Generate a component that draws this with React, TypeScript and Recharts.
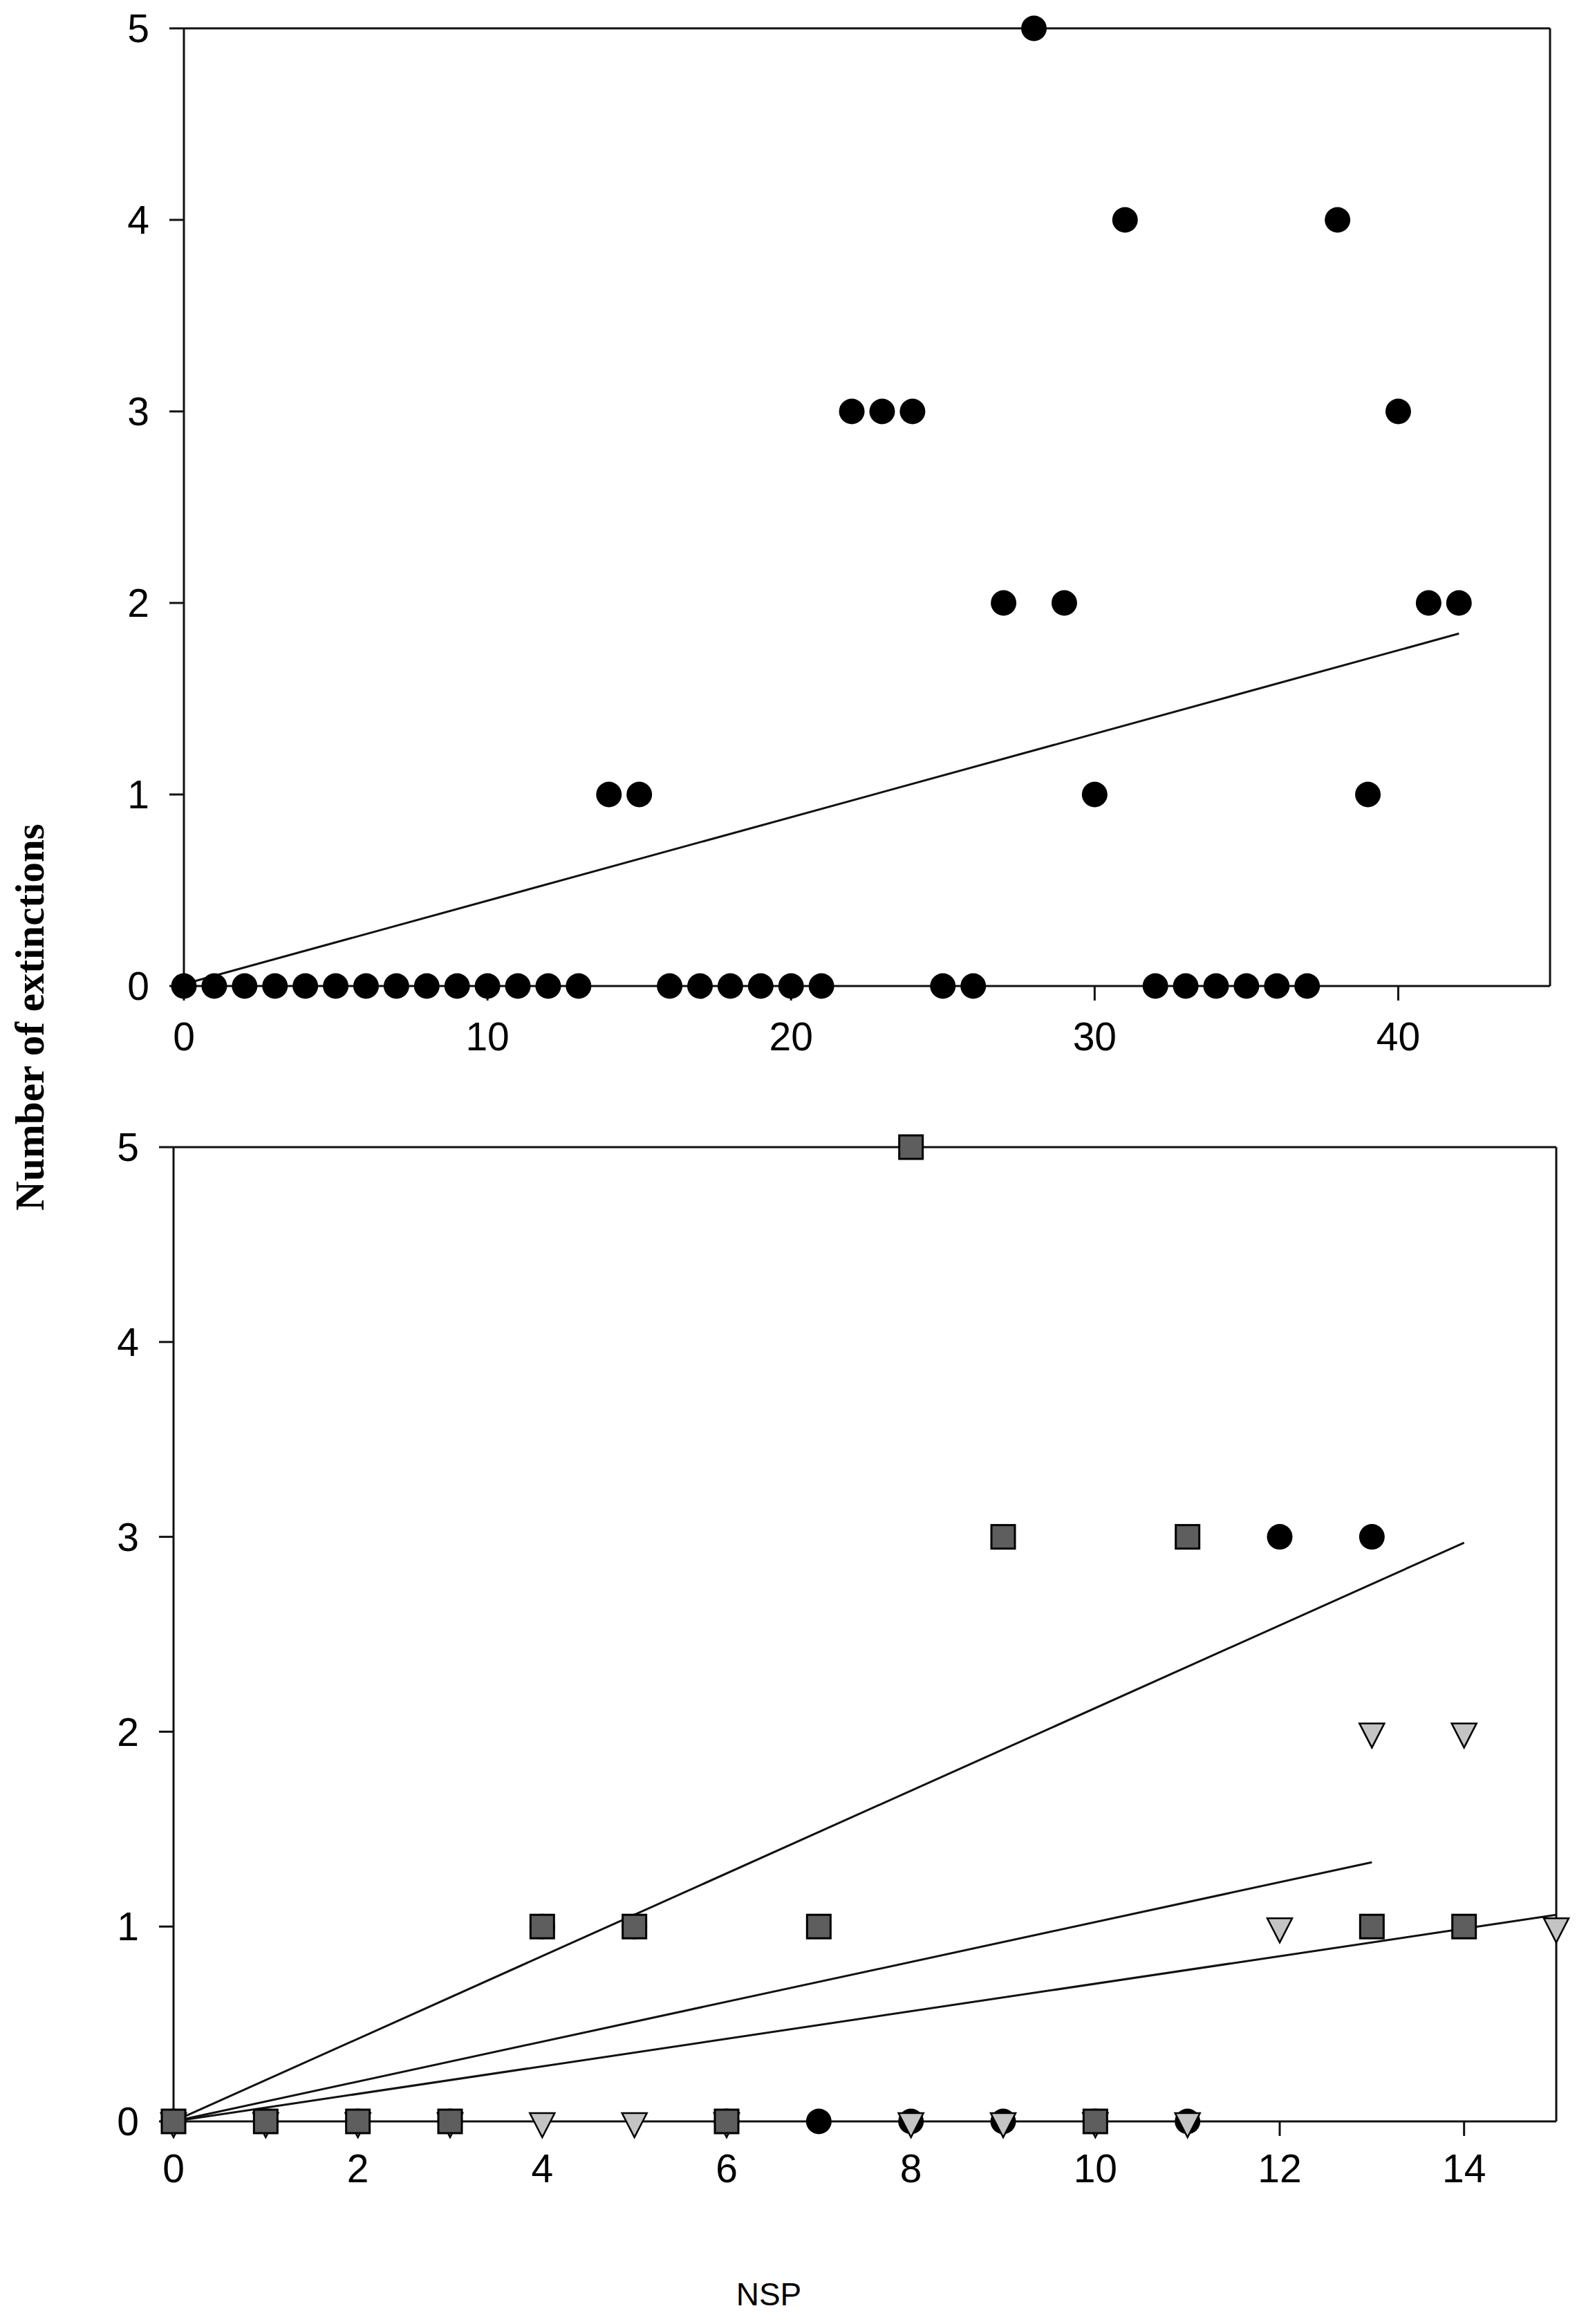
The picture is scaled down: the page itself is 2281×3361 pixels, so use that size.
import React from "react";
import {
  ScatterChart, Scatter, XAxis, YAxis, ReferenceLine,
} from "recharts";

// top panel: every run, NSP 0..42
const topNsp = [
  0, 1, 2, 3, 4, 5, 6, 7, 8, 9, 10, 11, 12, 13, 14, 15, 16, 17, 18, 19, 20, 21,
  22, 23, 24, 25, 26, 27, 28, 29, 30, 31, 32, 33, 34, 35, 36, 37, 38, 39, 40, 41, 42,
];
const topExt = [
  0, 0, 0, 0, 0, 0, 0, 0, 0, 0, 0, 0, 0, 0, 1, 1, 0, 0, 0, 0, 0, 0,
  3, 3, 3, 0, 0, 2, 5, 2, 1, 4, 0, 0, 0, 0, 0, 0, 4, 1, 3, 2, 2,
];
const topFitX = [0, 42];
const topFitY = [0.01, 1.84];

// bottom panel: three groups
const circleNsp = [0, 1, 2, 3, 4, 5, 6, 7, 8, 9, 10, 11, 12, 13];
const circleExt = [0, 0, 0, 0, 1, 1, 0, 0, 0, 0, 0, 0, 3, 3];
const squareNsp = [0, 1, 2, 3, 4, 5, 6, 7, 8, 9, 10, 11, 13, 14];
const squareExt = [0, 0, 0, 0, 1, 1, 0, 1, 5, 3, 0, 3, 1, 1];
const triNsp = [0, 1, 2, 3, 4, 5, 6, 8, 9, 10, 11, 12, 13, 14, 15];
const triExt = [0, 0, 0, 0, 0, 0, 0, 0, 0, 0, 0, 1, 2, 2, 1];

const squareFitX = [0, 14];
const squareFitY = [0, 2.97];
const circleFitX = [0, 13];
const circleFitY = [0, 1.33];
const triFitX = [0, 15];
const triFitY = [0, 1.06];

const topXTicks = [0, 10, 20, 30, 40];
const bottomXTicks = [0, 2, 4, 6, 8, 10, 12, 14];
const yTicks = [0, 1, 2, 3, 4, 5];

const pts = (xs: number[], ys: number[]) => xs.map((x, i) => ({ x, y: ys[i] }));

const tickFont = { fontSize: 57, fill: "#000", fontFamily: "'Liberation Sans', Arial, sans-serif" };
const axisStroke = { stroke: "#111", strokeWidth: 3 };

const Dot = ({ cx, cy }: any) => <circle cx={cx} cy={cy} r={18.5} fill="#000" />;
const Square = ({ cx, cy }: any) => (
  <rect x={cx - 17} y={cy - 17} width={34} height={34} fill="#5e5e5e" stroke="#000" strokeWidth={3} />
);
const DownTri = ({ cx, cy }: any) => (
  <polygon
    points={`${cx - 18},${cy - 12} ${cx + 18},${cy - 12} ${cx},${cy + 23}`}
    fill="#c4c4c4" stroke="#000" strokeWidth={2.5} strokeLinejoin="miter"
  />
);
const NoMark = () => <g />;
const fitLine = { stroke: "#111", strokeWidth: 3 };

export default function App() {
  return (
    <div style={{ position: "absolute", left: 0, top: 0, width: 2281, height: 3361, background: "#fff" }}>

      <div style={{ position: "absolute", left: 0, top: 0 }}>
        <ScatterChart width={2281} height={1546} margin={{ top: 41, right: 39, bottom: 0, left: 0 }}>
          <XAxis
            type="number" dataKey="x" domain={[0, 45]} ticks={topXTicks} height={120}
            tick={tickFont} tickSize={21} tickMargin={32}
            axisLine={axisStroke} tickLine={axisStroke}
          />
          <YAxis
            type="number" dataKey="y" domain={[0, 5]} ticks={yTicks} width={266}
            tick={tickFont} tickSize={21} tickMargin={29}
            axisLine={axisStroke} tickLine={axisStroke}
          />
          <ReferenceLine y={5} stroke="#111" strokeWidth={3} />
          <ReferenceLine x={45} stroke="#111" strokeWidth={3} />
          <Scatter data={pts(topFitX, topFitY)} line={fitLine} shape={NoMark} isAnimationActive={false} />
          <Scatter data={pts(topNsp, topExt)} shape={Dot} isAnimationActive={false} />
        </ScatterChart>
      </div>

      <div style={{ position: "absolute", left: 0, top: 1560 }}>
        <ScatterChart width={2281} height={1638} margin={{ top: 99, right: 30, bottom: 0, left: 0 }}>
          <XAxis
            type="number" dataKey="x" domain={[0, 15]} ticks={bottomXTicks} height={130}
            tick={tickFont} tickSize={21} tickMargin={27}
            axisLine={axisStroke} tickLine={axisStroke}
          />
          <YAxis
            type="number" dataKey="y" domain={[0, 5]} ticks={yTicks} width={251}
            tick={tickFont} tickSize={21} tickMargin={29}
            axisLine={axisStroke} tickLine={axisStroke}
          />
          <ReferenceLine y={5} stroke="#111" strokeWidth={3} />
          <ReferenceLine x={15} stroke="#111" strokeWidth={3} />
          <Scatter data={pts(squareFitX, squareFitY)} line={fitLine} shape={NoMark} isAnimationActive={false} />
          <Scatter data={pts(circleFitX, circleFitY)} line={fitLine} shape={NoMark} isAnimationActive={false} />
          <Scatter data={pts(triFitX, triFitY)} line={fitLine} shape={NoMark} isAnimationActive={false} />
          <Scatter data={pts(circleNsp, circleExt)} shape={Dot} isAnimationActive={false} />
          <Scatter data={pts(triNsp, triExt)} shape={DownTri} isAnimationActive={false} />
          <Scatter data={pts(squareNsp, squareExt)} shape={Square} isAnimationActive={false} />
        </ScatterChart>
      </div>

      <div
        style={{
          position: "absolute", left: 43, top: 1471,
          transform: "translate(-50%, -50%) rotate(-90deg)",
          whiteSpace: "nowrap", fontFamily: "'Liberation Serif', 'Times New Roman', serif",
          fontWeight: "bold", fontSize: 59, color: "#000", lineHeight: 1,
        }}
      >
        Number of extinctions
      </div>

      <div
        style={{
          position: "absolute", left: 1112, top: 3318,
          transform: "translate(-50%, -50%)",
          whiteSpace: "nowrap", fontFamily: "'Liberation Sans', Arial, sans-serif",
          fontSize: 46, color: "#000", lineHeight: 1,
        }}
      >
        NSP
      </div>
    </div>
  );
}
